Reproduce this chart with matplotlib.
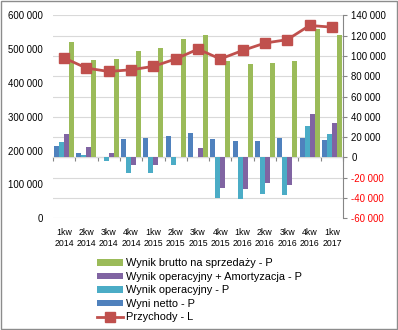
import numpy as np
import matplotlib
matplotlib.use("Agg")
import matplotlib.pyplot as plt
from matplotlib.patches import Rectangle
from matplotlib.ticker import FuncFormatter

plt.rcParams["font.family"] = ["Liberation Sans", "DejaVu Sans"]

# ── data ──────────────────────────────────────────────────────────────────────
quarters = ["1kw\n2014", "2kw\n2014", "3kw\n2014", "4kw\n2014",
            "1kw\n2015", "2kw\n2015", "3kw\n2015", "4kw\n2015",
            "1kw\n2016", "2kw\n2016", "3kw\n2016", "4kw\n2016",
            "1kw\n2017"]

wynik_netto = [11000, 4000, 0, 18000, 19000, 21000, 24000, 18000,
               16000, 16000, 19000, 19000, 17000]
wynik_oper = [15000, 2000, -3500, -15500, -15500, -7500, 0, -40000,
              -41000, -36000, -37000, 31000, 23000]
wynik_oper_amort = [23000, 10000, 4000, -7500, -7500, 0, 9000, -30000,
                    -31000, -25000, -27000, 43000, 34000]
wynik_brutto = [114000, 96000, 97000, 105000, 108000, 116500, 121000, 95000,
                92000, 93000, 95000, 127000, 121000]
przychody = [474000, 444000, 434000, 439000, 449000, 471000, 500000, 471000,
             496000, 518000, 528000, 570000, 565000]

C_BLUE = "#4F81BD"
C_CYAN = "#4BACC6"
C_PURPLE = "#8064A2"
C_GREEN = "#9BBB59"
C_RED = "#C0504D"
C_AXIS = "#868686"
C_GRID = "#D9D9D9"


def pl_fmt(v, pos=None):
    # thousands separated by a space, e.g. 140 000
    return f"{int(v):,}".replace(",", " ")


fig = plt.figure(figsize=(3.98, 3.30), dpi=100)
ax = fig.add_axes([0.133, 0.3385, 0.729, 0.6151])
axl = ax.twinx()   # left scale for revenue (twinx resets ax ticks, so do it first)

x = np.arange(len(quarters))
w = 0.224

# ── bars on the right-hand axis ──────────────────────────────────────────────
b_netto = ax.bar(x - 1.5 * w, wynik_netto, w, color=C_BLUE, zorder=3)
b_oper = ax.bar(x - 0.5 * w, wynik_oper, w, color=C_CYAN, zorder=3)
b_amort = ax.bar(x + 0.5 * w, wynik_oper_amort, w, color=C_PURPLE, zorder=3)
b_brutto = ax.bar(x + 1.5 * w, wynik_brutto, w, color=C_GREEN, zorder=3)

ax.set_xlim(-0.5, len(quarters) - 0.5)
ax.set_ylim(-60000, 140000)
ax.set_yticks(np.arange(-60000, 140001, 20000))
ax.yaxis.set_major_formatter(FuncFormatter(pl_fmt))
ax.yaxis.tick_right()
ax.yaxis.set_label_position("right")
ax.tick_params(axis="y", direction="out", length=3, width=0.8, color=C_AXIS,
               labelsize=6.9, pad=3)
for lbl, v in zip(ax.get_yticklabels(), ax.get_yticks()):
    lbl.set_color("red" if v < 0 else "black")
ax.yaxis.grid(True, color=C_GRID, lw=0.8, zorder=0)
ax.set_axisbelow(True)

for side in ("top", "left", "bottom"):
    ax.spines[side].set_visible(False)
ax.spines["right"].set_visible(True)
ax.spines["right"].set_color(C_AXIS)
ax.spines["right"].set_linewidth(0.8)

ax.set_xticks(x)
ax.set_xticklabels(quarters, fontsize=6.3, linespacing=1.35)
ax.tick_params(axis="x", length=0, pad=7)

# category axis drawn through zero, with ticks between groups
zero_frac = (0 - ax.get_ylim()[0]) / (ax.get_ylim()[1] - ax.get_ylim()[0])
zax = ax.secondary_xaxis(zero_frac)
zax.set_xticks(np.arange(-0.5, len(quarters) + 0.5, 1))
zax.set_xticklabels([])
zax.tick_params(axis="x", direction="out", length=3, width=0.8, color=C_AXIS)
zax.spines["bottom"].set_color(C_AXIS)
zax.spines["bottom"].set_linewidth(0.8)

# ── revenue line on the left-hand axis ───────────────────────────────────────
line, = axl.plot(x, przychody, color=C_RED, lw=2.0, marker="s", ms=6.5,
                 zorder=5)
axl.set_ylim(0, 600000)
axl.set_yticks(np.arange(0, 600001, 100000))
axl.yaxis.set_major_formatter(FuncFormatter(pl_fmt))
axl.yaxis.tick_left()
axl.tick_params(axis="y", length=0, labelsize=6.9, pad=7)
for side in ("top", "left", "right", "bottom"):
    axl.spines[side].set_visible(False)

# ── legend ───────────────────────────────────────────────────────────────────
fig.legend([b_brutto, b_amort, b_oper, b_netto, line],
           ["Wynik brutto na sprzedaży - P",
            "Wynik operacyjny + Amortyzacja - P",
            "Wynik operacyjny - P",
            "Wyni netto - P",
            "Przychody - L"],
           loc="upper left", bbox_to_anchor=(0.243, 0.217),
           frameon=False, fontsize=7.9, handlelength=2.4, handleheight=0.5,
           handletextpad=0.3, labelspacing=0.32, borderpad=0,
           borderaxespad=0)

# outer chart border
fig.patches.append(Rectangle((0.002, 0.003), 0.995, 0.994,
                             transform=fig.transFigure, fill=False,
                             edgecolor="#8C8C8C", lw=1.0))

fig.savefig("out.png", dpi=100)
